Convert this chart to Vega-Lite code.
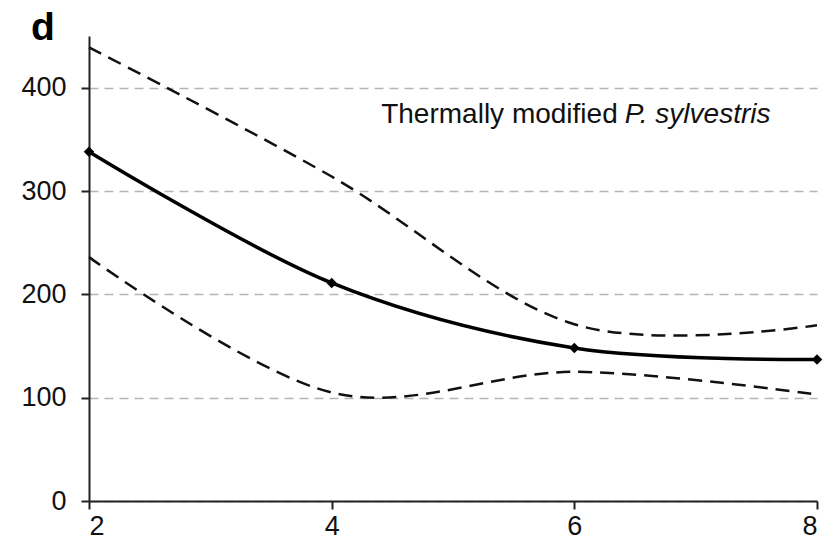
{
  "$schema": "https://vega.github.io/schema/vega-lite/v6.json",
  "width": 728,
  "height": 465,
  "autosize": "none",
  "padding": {"left": 89, "top": 36, "right": 19, "bottom": 46},
  "background": "white",
  "config": {
    "view": {"stroke": null},
    "font": "Liberation Sans"
  },
  "title": {
    "text": "d",
    "anchor": "start",
    "frame": "group",
    "fontSize": 39,
    "fontWeight": "bold",
    "font": "Liberation Sans",
    "color": "black",
    "dx": -58,
    "offset": -12
  },
  "datasets": {
    "curves": [
      {"t": 2, "v": 338, "s": "mean"},
      {"t": 4, "v": 211, "s": "mean"},
      {"t": 6, "v": 148, "s": "mean"},
      {"t": 8, "v": 137, "s": "mean"},
      {"t": 2, "v": 439, "s": "upper"},
      {"t": 4, "v": 314, "s": "upper"},
      {"t": 6, "v": 171, "s": "upper"},
      {"t": 8, "v": 170, "s": "upper"},
      {"t": 2, "v": 236, "s": "lower"},
      {"t": 4, "v": 105, "s": "lower"},
      {"t": 6, "v": 125, "s": "lower"},
      {"t": 8, "v": 103, "s": "lower"}
    ],
    "labels": [
      {"t": 6.44, "v": 366, "normal": "Thermally modified", "italic": "P. sylvestris"}
    ]
  },
  "layer": [
    {
      "data": {"name": "curves"},
      "transform": [{"filter": "datum.s !== 'mean'"}],
      "mark": {"type": "line", "interpolate": "cardinal", "color": "#111111", "strokeWidth": 2.5, "strokeDash": [14, 8]},
      "encoding": {
        "x": {"field": "t", "type": "quantitative", "scale": {"domain": [2, 8], "nice": false, "zero": false},
          "axis": {"values": [2, 4, 6, 8], "format": "d", "title": null, "grid": false, "domainColor": "#222222", "domainWidth": 2, "tickColor": "#222222", "tickWidth": 2, "tickSize": 8, "labelFontSize": 27, "labelColor": "#111111", "labelPadding": 4, "labelFont": "Liberation Sans"}},
        "y": {"field": "v", "type": "quantitative", "scale": {"domain": [0, 450], "nice": false},
          "axis": {"values": [0, 100, 200, 300, 400], "title": null, "grid": true, "gridColor": "#b5b5b5", "gridDash": [9, 6], "gridWidth": 1.5, "domainColor": "#222222", "domainWidth": 2, "tickColor": "#222222", "tickWidth": 2, "tickSize": 8, "labelFontSize": 27, "labelColor": "#111111", "labelPadding": 15, "labelFont": "Liberation Sans"}},
        "detail": {"field": "s", "type": "nominal"}
      }
    },
    {
      "data": {"name": "curves"},
      "transform": [{"filter": "datum.s === 'mean'"}],
      "mark": {"type": "line", "interpolate": "cardinal", "color": "black", "strokeWidth": 3.5},
      "encoding": {
        "x": {"field": "t", "type": "quantitative"},
        "y": {"field": "v", "type": "quantitative"}
      }
    },
    {
      "data": {"name": "curves"},
      "transform": [{"filter": "datum.s === 'mean'"}],
      "mark": {"type": "point", "shape": "diamond", "filled": true, "color": "black", "size": 110, "opacity": 1},
      "encoding": {
        "x": {"field": "t", "type": "quantitative"},
        "y": {"field": "v", "type": "quantitative"}
      }
    },
    {
      "data": {"name": "labels"},
      "mark": {"type": "text", "align": "right", "baseline": "alphabetic", "fontSize": 28, "font": "Liberation Sans", "color": "#111111", "dx": -10},
      "encoding": {
        "x": {"field": "t", "type": "quantitative"},
        "y": {"field": "v", "type": "quantitative"},
        "text": {"field": "normal"}
      }
    },
    {
      "data": {"name": "labels"},
      "mark": {"type": "text", "align": "left", "baseline": "alphabetic", "fontSize": 28, "font": "Liberation Sans", "fontStyle": "italic", "color": "#111111", "dx": -3},
      "encoding": {
        "x": {"field": "t", "type": "quantitative"},
        "y": {"field": "v", "type": "quantitative"},
        "text": {"field": "italic"}
      }
    }
  ]
}
